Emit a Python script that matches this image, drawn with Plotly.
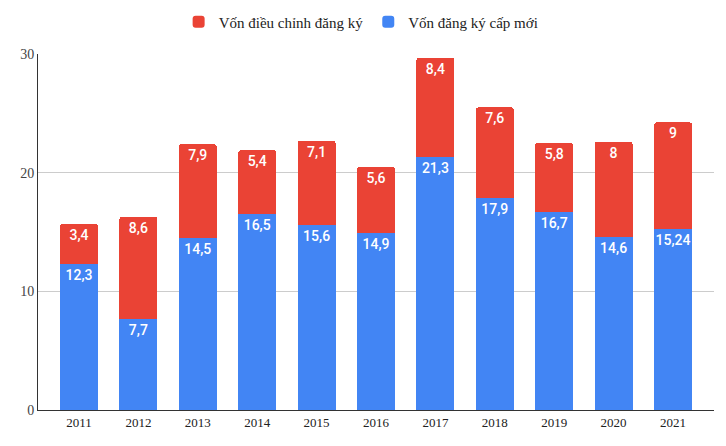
import plotly.graph_objects as go

years = ["2011", "2012", "2013", "2014", "2015", "2016", "2017", "2018", "2019", "2020", "2021"]
new_capital = [12.3, 7.7, 14.5, 16.5, 15.6, 14.9, 21.3, 17.9, 16.7, 14.6, 15.24]
adjusted_capital = [3.4, 8.6, 7.9, 5.4, 7.1, 5.6, 8.4, 7.6, 5.8, 8, 9]
new_labels = ["12,3", "7,7", "14,5", "16,5", "15,6", "14,9", "21,3", "17,9", "16,7", "14,6", "15,24"]
adj_labels = ["3,4", "8,6", "7,9", "5,4", "7,1", "5,6", "8,4", "7,6", "5,8", "8", "9"]
y_ticks = [0, 10, 20, 30]

BLUE = "#4285F4"
RED = "#EA4335"
SERIF = "Liberation Serif, Times New Roman, serif"

fig = go.Figure()
fig.add_trace(go.Bar(
    x=years, y=new_capital, name="Vốn đăng ký cấp mới",
    marker=dict(color=BLUE, line=dict(width=0)),
    text=new_labels, textposition="inside", insidetextanchor="end", textangle=0,
    textfont=dict(family="Roboto", size=14, color="white", weight=500),
    constraintext="none", hoverinfo="skip",
))
fig.add_trace(go.Bar(
    x=years, y=adjusted_capital, name="Vốn điều chỉnh đăng ký",
    marker=dict(color=RED, line=dict(width=0)),
    text=adj_labels, textposition="inside", insidetextanchor="end", textangle=0,
    textfont=dict(family="Roboto", size=14, color="white", weight=500),
    constraintext="none", hoverinfo="skip",
))

fig.update_layout(
    width=718, height=438,
    barmode="stack", bargap=0.36,
    barcornerradius=3,
    plot_bgcolor="white", paper_bgcolor="white",
    margin=dict(l=30, r=12, t=46, b=36, autoexpand=False),
    font=dict(family=SERIF, size=13, color="#333333"),
    legend=dict(
        orientation="h", traceorder="reversed",
        x=0.478, xanchor="center", y=1.09, yanchor="middle",
        font=dict(family=SERIF, size=15, color="#222222"),
        itemwidth=30,
    ),
    xaxis=dict(
        range=[-0.69, 10.69], showline=True, linecolor="#333333", linewidth=1,
        ticks="", tickfont=dict(family=SERIF, size=13, color="#222222"),
    ),
    yaxis=dict(
        range=[0, 30], tickvals=y_ticks, showgrid=True, gridcolor="#cccccc",
        showline=True, linecolor="#333333", linewidth=1, zeroline=False,
        ticks="", tickfont=dict(family=SERIF, size=14, color="#444444"),
    ),
)

fig.write_html("out.html")
